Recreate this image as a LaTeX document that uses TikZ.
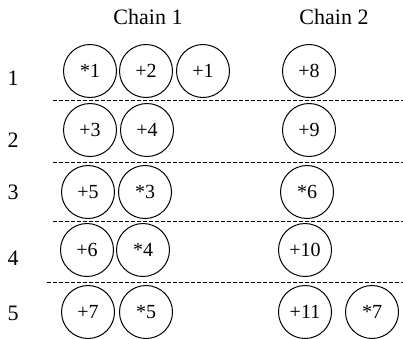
\documentclass[tikz,border=0pt]{standalone}
\usepackage{fontspec}
\setmainfont{Liberation Serif}
\begin{document}
\begin{tikzpicture}[x=1pt,y=-1pt,
  ball/.style={circle, draw, line width=1pt, minimum size=53pt, inner sep=0pt, font=\fontsize{20}{20}\selectfont},
  head/.style={font=\fontsize{22}{22}\selectfont},
  rowlab/.style={font=\fontsize{22}{22}\selectfont},
  sepline/.style={dash pattern=on 4pt off 2pt, line width=0.9pt}]
\useasboundingbox (0,0) rectangle (403,338);
% headers
\node[head] (h1) at (148,17) {Chain 1};
\node[head] (h2) at (334,17) {Chain 2};
% row labels
\node[rowlab] (r1) at (13,78) {1};
\node[rowlab] (r2) at (13,140) {2};
\node[rowlab] (r3) at (13,192) {3};
\node[rowlab] (r4) at (13,258) {4};
\node[rowlab] (r5) at (13,313) {5};
% row 1
\node[ball] (a1) at (90,71) {*1};
\node[ball] (a2) at (146,71) {+2};
\node[ball] (a3) at (203,71) {+1};
\node[ball] (a4) at (309,71) {+8};
% row 2
\node[ball] (b1) at (90,130) {+3};
\node[ball] (b2) at (147,130) {+4};
\node[ball] (b4) at (309,130) {+9};
% row 3
\node[ball] (c1) at (88,192) {+5};
\node[ball] (c2) at (145,192) {*3};
\node[ball] (c4) at (307,192) {*6};
% row 4
\node[ball] (d1) at (87,250) {+6};
\node[ball] (d2) at (143,250) {*4};
\node[ball] (d4) at (305,250) {+10};
% row 5
\node[ball] (e1) at (88,312) {+7};
\node[ball] (e2) at (146,312) {*5};
\node[ball] (e4) at (305,312) {+11};
\node[ball] (e5) at (372,312) {*7};
% separators
\coordinate (s1l) at (53,100); \coordinate (s1r) at (403,100);
\coordinate (s2l) at (53,162); \coordinate (s2r) at (403,162);
\coordinate (s3l) at (53,221); \coordinate (s3r) at (403,221);
\coordinate (s4l) at (47,282); \coordinate (s4r) at (403,282);
\draw[sepline] (s1l) -- (s1r);
\draw[sepline] (s2l) -- (s2r);
\draw[sepline] (s3l) -- (s3r);
\draw[sepline] (s4l) -- (s4r);
\end{tikzpicture}
\end{document}
